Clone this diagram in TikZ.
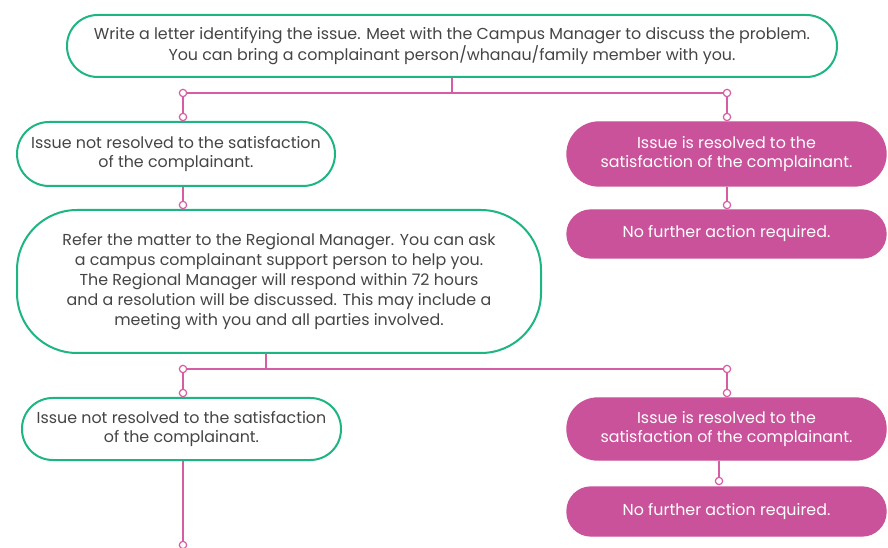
\documentclass[tikz,border=0pt]{standalone}
\usepackage{fontspec}
\setmainfont{Poppins}
\usetikzlibrary{positioning}
\definecolor{mgreen}{HTML}{1DB584}
\definecolor{mpink}{HTML}{C9529A}
\definecolor{mline}{HTML}{D65DA3}
\definecolor{mtext}{HTML}{454545}
\tikzset{
  stepnode/.style = {rectangle, draw=mgreen, line width=1.5pt, fill=white,
                     inner sep=0pt, align=center, text=mtext,
                     font=\fontsize{11.9}{14.4}\selectfont},
  donenode/.style = {rectangle, draw=mpink, fill=mpink, line width=1pt,
                     inner sep=0pt, align=center, text=white,
                     font=\fontsize{11.9}{14.4}\selectfont},
  link/.style = {draw=mline, line width=1.1pt},
  dot/.style = {circle, draw=mline, fill=white, line width=0.9pt,
                inner sep=0pt, minimum size=5.5pt}
}

\begin{document}
\begin{tikzpicture}[x=0.75pt, y=-0.75pt]
  \useasboundingbox (0,0) rectangle (888,548);

  % boxes
  \node[stepnode, minimum width=577.5pt, minimum height=46.5pt, rounded corners=23pt]
    (letter) at (452,46)
    {Write a letter identifying the issue. Meet with the Campus Manager to discuss the problem.\\
     You can bring a complainant person/whanau/family member with you.};
  \node[stepnode, minimum width=238.5pt, minimum height=48pt, rounded corners=24pt]
    (notres1) at (176,154)
    {Issue not resolved to the satisfaction\\ of the complainant.};
  \node[donenode, minimum width=239.25pt, minimum height=48pt, rounded corners=24pt]
    (res1) at (726.5,154)
    {Issue is resolved to the\\ satisfaction of the complainant.};
  \node[donenode, minimum width=239.25pt, minimum height=36pt, rounded corners=18pt]
    (done1) at (726.5,234)
    {No further action required.};
  \node[stepnode, minimum width=393pt, minimum height=107.25pt, rounded corners=45pt,
        font=\fontsize{11.9}{15}\selectfont]
    (regional) at (279,281.5)
    {Refer the matter to the Regional Manager. You can ask\\
     a campus complainant support person to help you.\\
     The Regional Manager will respond within 72 hours\\
     and a resolution will be discussed. This may include a\\
     meeting with you and all parties involved.};
  \node[stepnode, minimum width=239.25pt, minimum height=46.5pt, rounded corners=23pt]
    (notres2) at (181.5,429)
    {Issue not resolved to the satisfaction\\ of the complainant.};
  \node[donenode, minimum width=239.25pt, minimum height=46.5pt, rounded corners=23pt]
    (res2) at (726.5,429)
    {Issue is resolved to the\\ satisfaction of the complainant.};
  \node[donenode, minimum width=239.25pt, minimum height=36.75pt, rounded corners=18pt]
    (done2) at (726.5,511.5)
    {No further action required.};

  % joints
  \coordinate (a1) at (183,93);
  \coordinate (a2) at (727,93);
  \coordinate (b1) at (183,117);
  \coordinate (b2) at (727,117);
  \coordinate (c1) at (183,205);
  \coordinate (c2) at (727,205);
  \coordinate (d1) at (183,369);
  \coordinate (d2) at (727,369);
  \coordinate (e1) at (183,393);
  \coordinate (e2) at (727,393);
  \coordinate (f2) at (719,481);
  \coordinate (g1) at (183,545);

  % connectors
  \draw[link] (letter.south) -- (letter.south |- a1);
  \draw[link] (a1) -- (a2);
  \draw[link] (a1) -- (b1);
  \draw[link] (a2) -- (b2);
  \draw[link] (c1 |- notres1.south) -- (c1);
  \draw[link] (c2 |- res1.south) -- (c2);
  \draw[link] (266,353) coordinate (r0) -- (r0 |- d1);
  \draw[link] (d1) -- (d2);
  \draw[link] (d1) -- (e1);
  \draw[link] (d2) -- (e2);
  \draw[link] (f2 |- res2.south) -- (f2);
  \draw[link] (g1 |- notres2.south) -- (g1);

  \foreach \p in {a1,a2,b1,b2,c1,c2,d1,d2,e1,e2,f2,g1}
    \node[dot] at (\p) {};
\end{tikzpicture}
\end{document}
